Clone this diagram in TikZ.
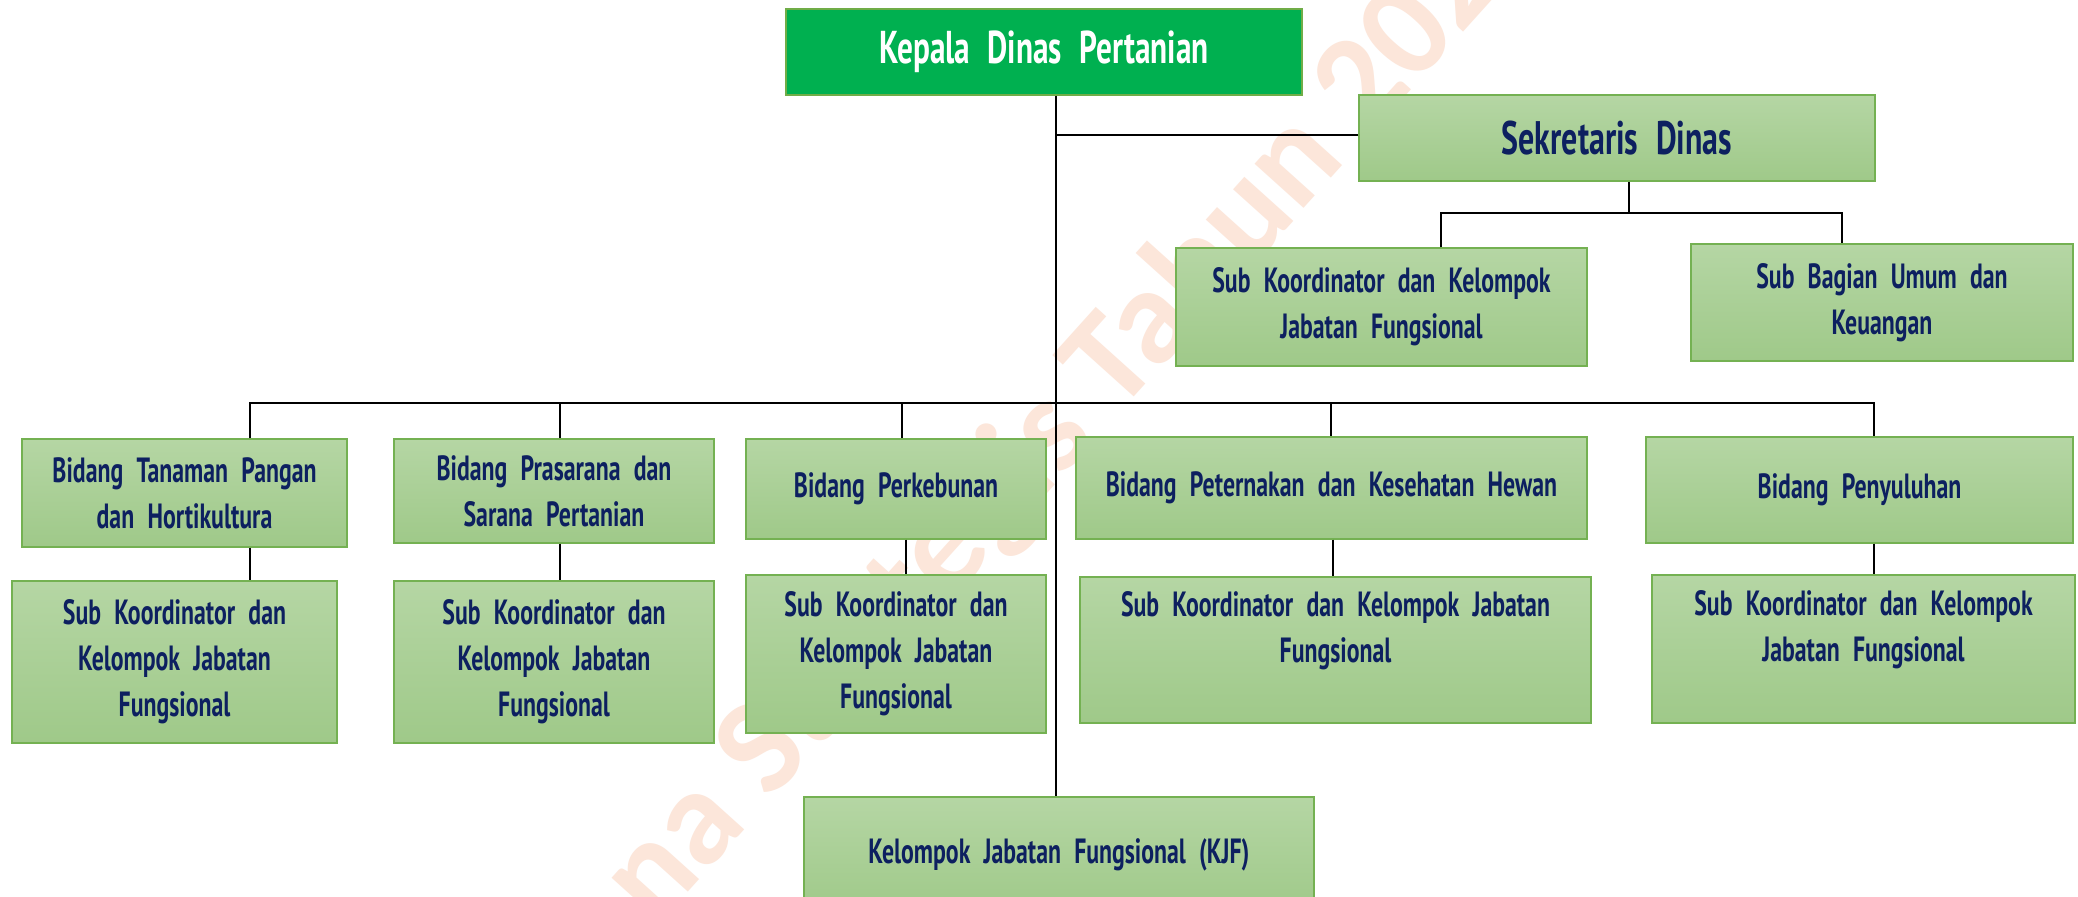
\documentclass[tikz,border=0pt]{standalone}
\usepackage{fontspec}
\setmainfont{PT Sans}[FakeStretch=0.68, WordSpace=2.2]
\newfontfamily\wmfont{Carlito}
\definecolor{kepgreen}{HTML}{00B050}
\definecolor{kepborder}{HTML}{70AD47}
\definecolor{boxtop}{HTML}{B5D6A4}
\definecolor{boxbot}{HTML}{9FC989}
\definecolor{boxborder}{HTML}{74B152}
\definecolor{navytext}{HTML}{0D2060}
\definecolor{wmcolor}{HTML}{FCE6DA}
\newcommand\orgnode[7]{\node[#6, minimum width={(#4-#2)*0.5pt}, minimum height={(#5-#3)*0.5pt}] (#1) at ({(#2+#4)/2},{(#3+#5)/2}) {#7};}
\tikzset{
  conn/.style={line width=1.3pt, black},
  orgbox/.style={draw=boxborder, line width=0.7pt, top color=boxtop, bottom color=boxbot,
    align=center, text=navytext, inner sep=0pt,
    font=\fontsize{17.5}{23}\selectfont\bfseries},
  bigbox/.style={orgbox, font=\fontsize{23.5}{28}\selectfont\bfseries},
  headbox/.style={draw=kepborder, line width=0.7pt, fill=kepgreen, text=white, align=center,
    inner sep=0pt, font=\fontsize{23}{28}\selectfont\bfseries},
  wmark/.style={rotate=48, text=wmcolor, inner sep=0pt,
    font=\wmfont\bfseries\fontsize{68}{74}\selectfont}
}
\begin{document}
\begin{tikzpicture}[x=0.5pt, y=-0.5pt]
\useasboundingbox (0,0) rectangle (2078,896);
\fill[white] (0,0) rectangle (2078,896);
\begin{scope}
  \clip (0,0) rectangle (2078,896);
  \node[wmark] (wm) at (1070,415) {Rencana Strategis Tahun 2023-2026};
\end{scope}

% boxes
\orgnode{kepala}{786}{9}{1302}{95}{headbox}{Kepala Dinas Pertanian}
\orgnode{sek}{1359}{95}{1875}{181}{bigbox}{Sekretaris Dinas}
\orgnode{subsek}{1176}{248}{1587}{366}{orgbox}{Sub Koordinator dan Kelompok\\Jabatan Fungsional}
\orgnode{subbag}{1691}{244}{2073}{361}{orgbox}{Sub Bagian Umum dan\\Keuangan}
\orgnode{tanaman}{22}{439}{347}{547}{orgbox}{Bidang Tanaman Pangan\\dan Hortikultura}
\orgnode{prasarana}{394}{439}{714}{543}{orgbox}{Bidang Prasarana dan\\Sarana Pertanian}
\orgnode{perkebunan}{746}{439}{1046}{539}{orgbox}{Bidang Perkebunan}
\orgnode{peternakan}{1076}{437}{1587}{539}{orgbox}{Bidang Peternakan dan Kesehatan Hewan}
\orgnode{penyuluhan}{1646}{437}{2073}{543}{orgbox}{Bidang Penyuluhan}
\orgnode{subtan}{12}{581}{337}{743}{orgbox}{Sub Koordinator dan\\Kelompok Jabatan\\Fungsional}
\orgnode{subpra}{394}{581}{714}{743}{orgbox}{Sub Koordinator dan\\Kelompok Jabatan\\Fungsional}
\orgnode{subper}{746}{575}{1046}{733}{orgbox}{Sub Koordinator dan\\Kelompok Jabatan\\Fungsional}
\orgnode{subpet}{1080}{577}{1591}{723}{orgbox}{Sub Koordinator dan Kelompok Jabatan\\Fungsional\\\mbox{}}
\orgnode{subpen}{1652}{575}{2075}{723}{orgbox}{Sub Koordinator dan Kelompok\\Jabatan Fungsional\\\mbox{}}
\orgnode{kjf}{804}{797}{1314}{912}{orgbox}{Kelompok Jabatan Fungsional (KJF)}

% connector points
\coordinate (tk) at (1056,0);
\coordinate (skl) at (1356,135);
\coordinate (sbus) at (1629,213);
\coordinate (sbl) at (1441,213);
\coordinate (sbr) at (1842,213);
\coordinate (mbl) at (250,403);
\coordinate (mbr) at (1874,403);
\coordinate (d2) at (560,403);
\coordinate (d3) at (902,403);
\coordinate (d3b) at (906,403);
\coordinate (d4) at (1331,403);
\coordinate (d4b) at (1333,403);

% connectors
\draw[conn] (kepala.south -| tk) -- (kjf.north -| tk);
\draw[conn] (sek.west |- skl) -- (skl -| tk);
\draw[conn] (sek.south -| sbus) -- (sbus);
\draw[conn] (subsek.north -| sbl) -- (sbl) -- (sbr) -- (subbag.north -| sbr);
\draw[conn] (tanaman.north -| mbl) -- (mbl) -- (mbr) -- (penyuluhan.north -| mbr);
\draw[conn] (d2) -- (prasarana.north -| d2);
\draw[conn] (d3) -- (perkebunan.north -| d3);
\draw[conn] (d4) -- (peternakan.north -| d4);
\draw[conn] (tanaman.south -| mbl) -- (subtan.north -| mbl);
\draw[conn] (prasarana.south -| d2) -- (subpra.north -| d2);
\draw[conn] (perkebunan.south -| d3b) -- (subper.north -| d3b);
\draw[conn] (peternakan.south -| d4b) -- (subpet.north -| d4b);
\draw[conn] (penyuluhan.south -| mbr) -- (subpen.north -| mbr);
\end{tikzpicture}
\end{document}
